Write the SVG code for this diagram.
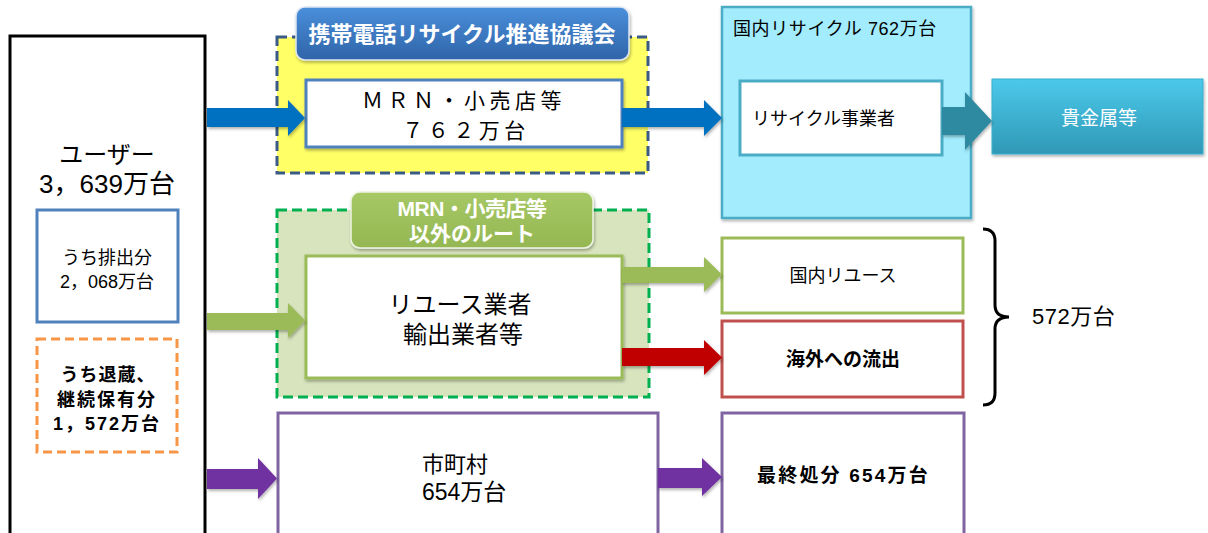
<svg xmlns="http://www.w3.org/2000/svg" width="1208" height="533" viewBox="0 0 1208 533">
<defs>
<style>
text{font-family:"Liberation Sans","Noto Sans CJK JP",sans-serif;fill:#000}
.c{text-anchor:middle}
.b{font-weight:bold}
.w{fill:#fff}
.box{fill:#fff;stroke-width:3}
</style>
<linearGradient id="gBlue" x1="0" y1="0" x2="0" y2="1">
<stop offset="0" stop-color="#4A8FDB"/>
<stop offset="1" stop-color="#2F64A8"/>
</linearGradient>
<linearGradient id="gGreen" x1="0" y1="0" x2="0" y2="1">
<stop offset="0" stop-color="#A6C865"/>
<stop offset="1" stop-color="#94B753"/>
</linearGradient>
<linearGradient id="gTeal" x1="0" y1="0" x2="0" y2="1">
<stop offset="0" stop-color="#4CC9EA"/>
<stop offset="1" stop-color="#2F98B6"/>
</linearGradient>
<filter id="sh" x="-5%" y="-5%" width="115%" height="125%">
<feDropShadow dx="1" dy="2" stdDeviation="1.5" flood-color="#000" flood-opacity="0.3"/>
</filter>
</defs>
<rect width="1208" height="533" fill="#fff"/>

<g id="user">
<rect x="10" y="36" width="195" height="520" fill="#fff" stroke="#000" stroke-width="3"/>
<text class="c" x="107" y="163" font-size="24">ユーザー</text>
<text class="c" x="107" y="193" font-size="26">3，639万台</text>
</g>
<g id="discharged">
<rect class="box" x="37" y="210" width="141" height="112" stroke="#4F81BD"/>
<text class="c" x="107" y="264" font-size="18">うち排出分</text>
<text class="c" x="107" y="288" font-size="18">2，068万台</text>
</g>
<g id="retained">
<rect class="box" x="37" y="339" width="140" height="113" stroke="#F79646" stroke-dasharray="9,5"/>
<text class="c b" x="108" y="381" font-size="18" letter-spacing="1">うち退蔵、</text>
<text class="c b" x="107" y="406" font-size="18" letter-spacing="2">継続保有分</text>
<text class="c b" x="107" y="430" font-size="18" letter-spacing="2">1，572万台</text>
</g>

<g id="council">
<rect x="277" y="37" width="371" height="136" fill="#FFFF66" stroke="#3B5A85" stroke-width="3" stroke-dasharray="10,5"/>
<rect x="296" y="7" width="333" height="53" rx="9" fill="url(#gBlue)" stroke="#DDE6F2" stroke-width="1.5" filter="url(#sh)"/>
<text class="c b w" x="462" y="42" font-size="22">携帯電話リサイクル推進協議会</text>
</g>
<g id="mrn">
<rect class="box" x="306" y="80" width="316" height="67" stroke="#4F81BD" filter="url(#sh)"/>
<text class="c" x="464" y="108" font-size="21" letter-spacing="4.5">ＭＲＮ・小売店等</text>
<text class="c" x="466" y="138" font-size="21" letter-spacing="4.5">７６２万台</text>
</g>

<g id="other-route">
<rect x="277" y="210" width="372" height="187" fill="#D7E4BD" stroke="#00B050" stroke-width="3" stroke-dasharray="10,5"/>
<rect x="351" y="192" width="242" height="56" rx="9" fill="url(#gGreen)" stroke="#EEF4E2" stroke-width="1.5" filter="url(#sh)"/>
<text class="c b w" x="472" y="216" font-size="21" letter-spacing="-0.5">MRN・小売店等</text>
<text class="c b w" x="472" y="241" font-size="21">以外のルート</text>
</g>
<g id="reuse-export">
<rect class="box" x="306" y="256" width="316" height="122" stroke="#9BBB59" filter="url(#sh)"/>
<text class="c" x="460" y="313" font-size="24">リユース業者</text>
<text class="c" x="463" y="343" font-size="24">輸出業者等</text>
</g>

<g id="domestic-recycle">
<rect x="722" y="7" width="249" height="211" fill="#A2ECFD" stroke="#4BACC6" stroke-width="2.5" filter="url(#sh)"/>
<text x="733" y="35" font-size="18" letter-spacing="0.6">国内リサイクル 762万台</text>
</g>
<g id="recycler">
<rect class="box" x="740" y="81" width="202" height="74" stroke="#4BACC6"/>
<text x="752" y="125" font-size="18">リサイクル事業者</text>
</g>
<g id="precious-metals">
<rect x="992" y="79" width="211" height="75" fill="url(#gTeal)" stroke="#3AAFCE" stroke-width="1" filter="url(#sh)"/>
<text class="c w" x="1099" y="125" font-size="19">貴金属等</text>
</g>

<g id="domestic-reuse">
<rect class="box" x="722" y="238" width="241" height="75" stroke="#9BBB59"/>
<text class="c" x="843" y="282" font-size="18">国内リユース</text>
</g>
<g id="overseas">
<rect class="box" x="722" y="321" width="241" height="76" stroke="#C0504D"/>
<text class="c b" x="843" y="366" font-size="19">海外への流出</text>
</g>
<g id="total-572">
<path d="M983,229 Q995,229 995,241 L995,305 Q995,317 1009,317 Q995,317 995,329 L995,393 Q995,405 983,405" fill="none" stroke="#000" stroke-width="3"/>
<text x="1032" y="324" font-size="22" letter-spacing="0.5">572万台</text>
</g>

<g id="municipality">
<rect class="box" x="278" y="413" width="380" height="130" stroke="#8064A2"/>
<text x="422" y="472" font-size="22">市町村</text>
<text x="422" y="500" font-size="23">654万台</text>
</g>
<g id="final-disposal">
<rect class="box" x="722" y="413" width="242" height="130" stroke="#8064A2"/>
<text class="b" x="757" y="482" font-size="19" letter-spacing="2.2">最終処分 654万台</text>
</g>

<g id="connectors" filter="url(#sh)">
<polygon fill="#0070C0" points="207,108 288,108 288,100 305,118 288,136 288,127 207,127"/>
<polygon fill="#0070C0" points="622,108 704,108 704,100 722,118 704,136 704,127 622,127"/>
<polygon fill="#2E8AA0" points="942,107 965,107 965,92 992,121 965,150 965,135 942,135"/>
<polygon fill="#9BBB59" points="207,313 288,313 288,303 305,320.5 288,338 288,330 207,330"/>
<polygon fill="#9BBB59" points="622,267 704,267 704,257 722,274.5 704,292 704,283 622,283"/>
<polygon fill="#C00000" points="622,348 704,348 704,340 722,357.5 704,375 704,366 622,366"/>
<polygon fill="#7030A0" points="207,469 258,469 258,458 277,478.5 258,499 258,489 207,489"/>
<polygon fill="#7030A0" points="658,468 702,468 702,458 722,477 702,496 702,488 658,488"/>
</g>
</svg>
